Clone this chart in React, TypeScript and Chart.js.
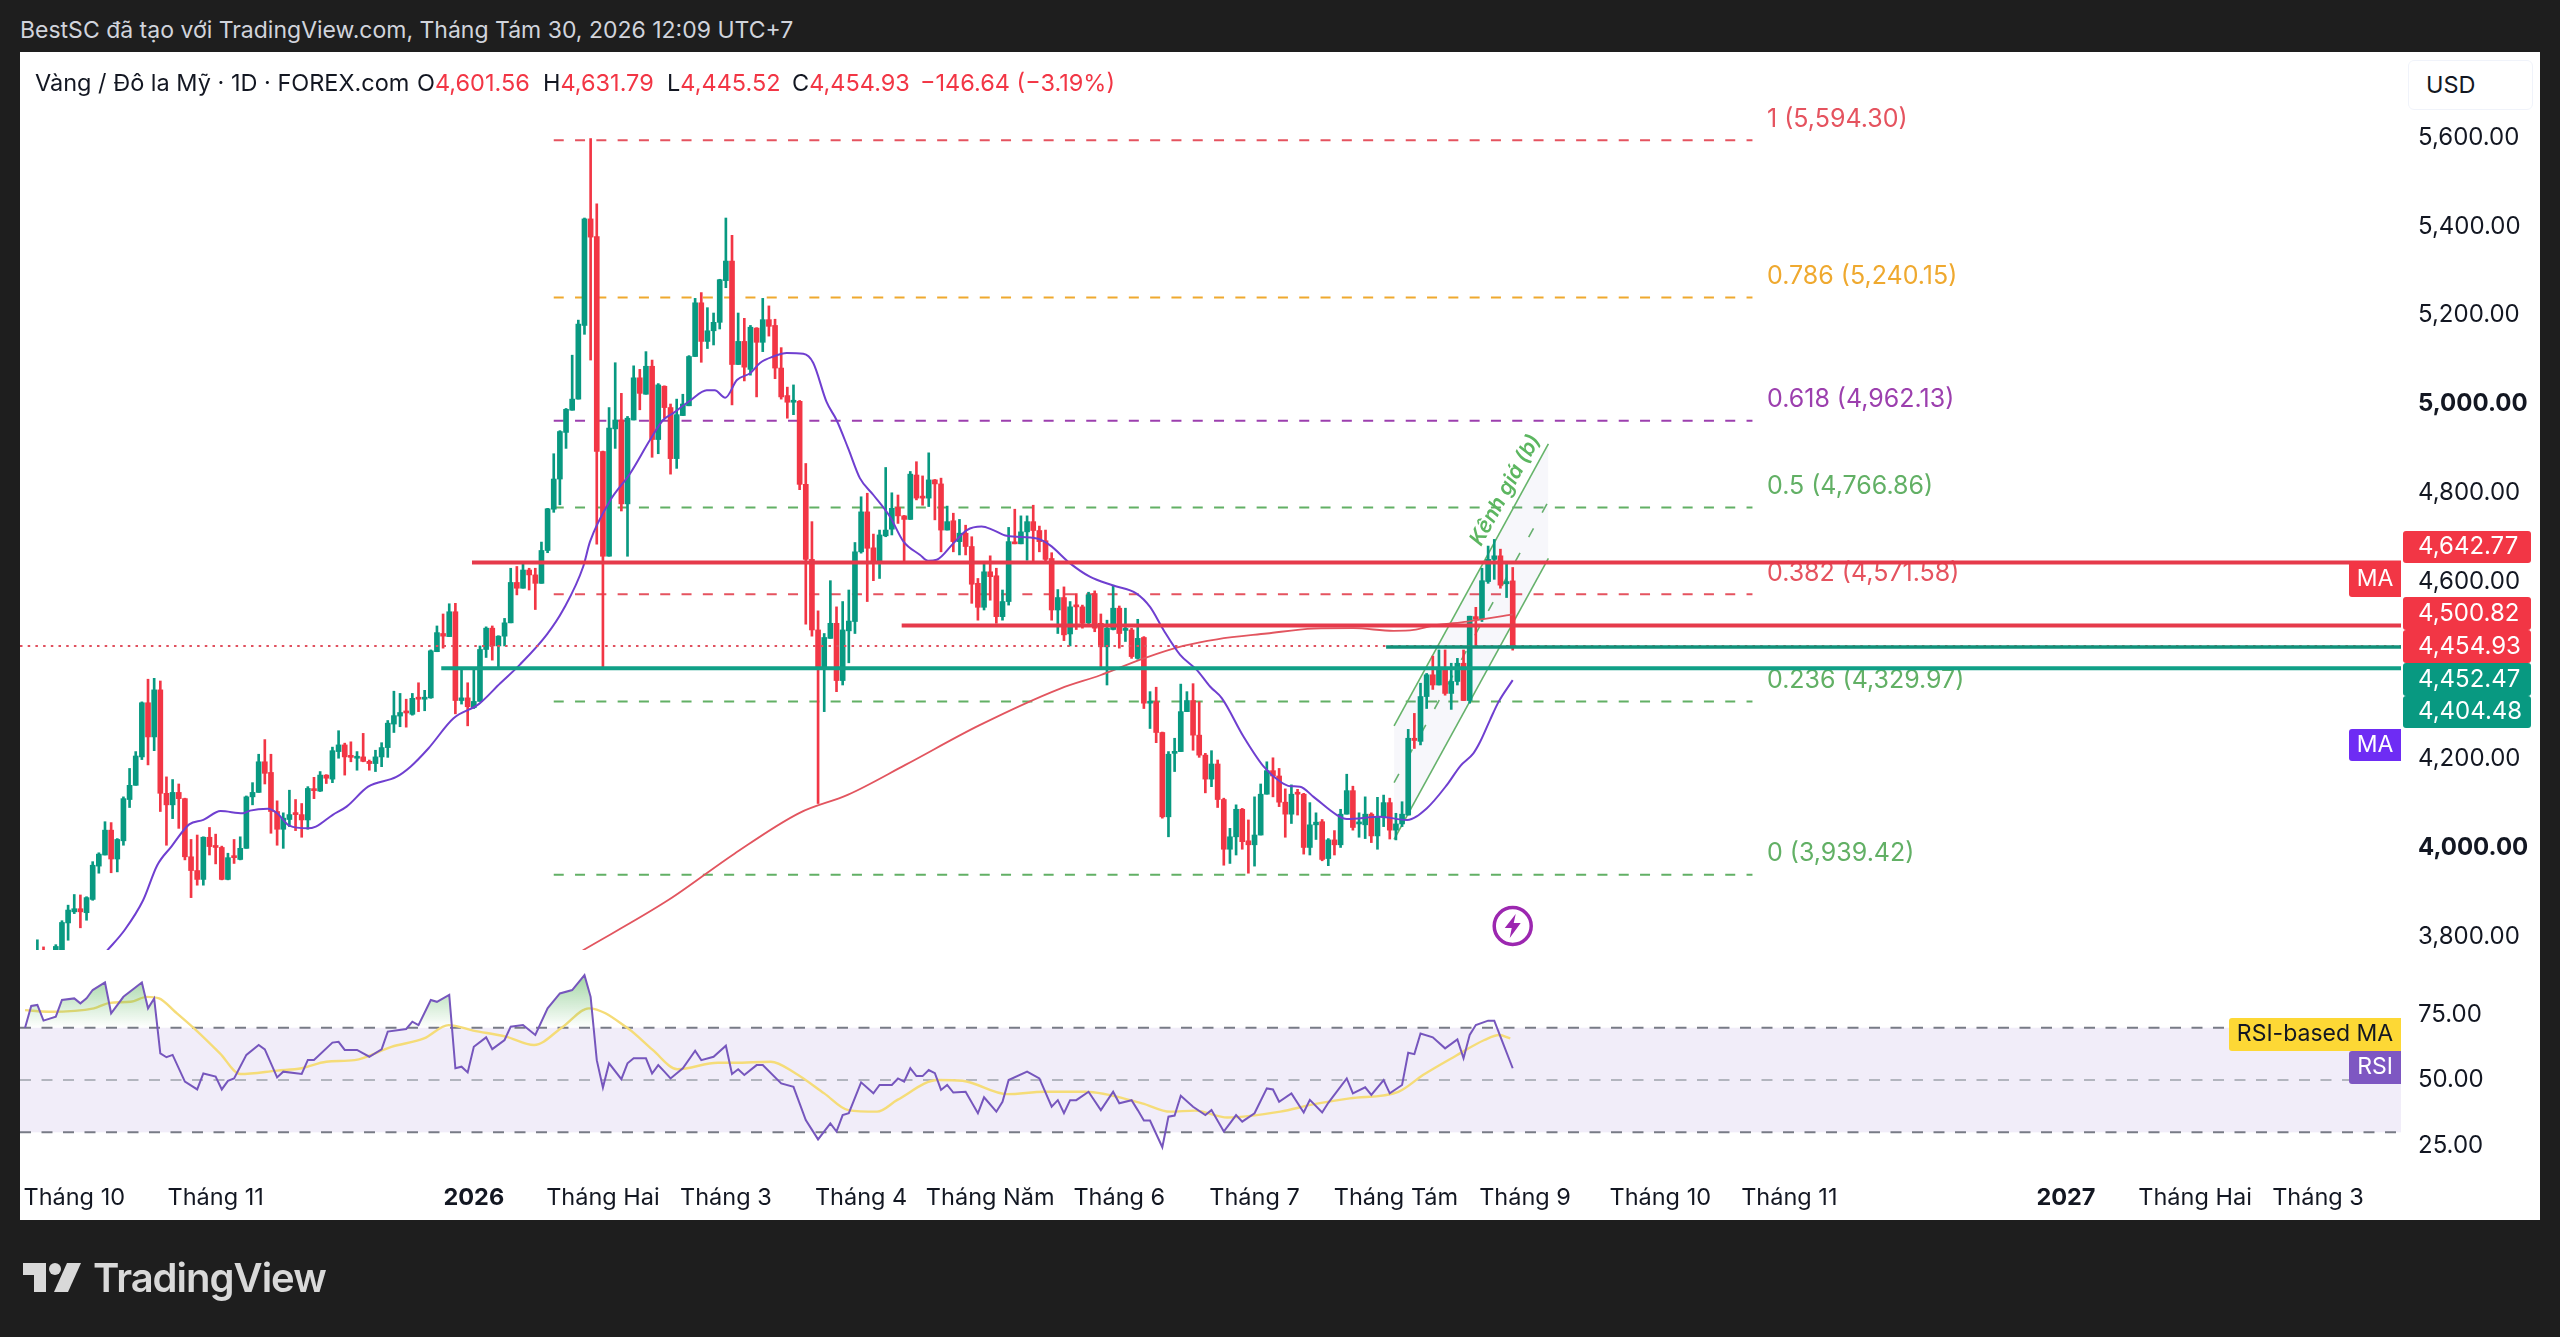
import React, { useEffect, useRef } from 'react';
import { Chart, registerables } from 'chart.js';

Chart.register(...registerables);

const opens = [3735,3742,3745,3765,3745,3750,3765,3831,3856,3863,3854,3884,3959,3984,4040,3975,4016,4109,4141,4205,4327,4250,4356,4123,4097,4125,4111,3980,3949,3929,4024,4004,4001,3929,3982,3974,3999,4115,4125,4194,4170,4082,4042,4064,4078,4075,4063,4133,4128,4164,4155,4217,4232,4208,4202,4205,4195,4190,4205,4226,4279,4297,4307,4301,4338,4335,4338,4442,4483,4476,4532,4332,4338,4316,4330,4447,4495,4455,4477,4507,4598,4585,4626,4615,4596,4670,4763,4831,4936,4986,5011,5177,5417,5377,4893,4657,4944,4964,4775,4964,5059,5022,5085,4920,5040,4992,4877,4974,4996,5107,5228,5141,5165,5184,5278,5322,5089,5141,5078,5171,5139,5190,5177,5081,5019,5004,5006,4819,4650,4491,4404,4472,4506,4377,4489,4510,4667,4757,4676,4641,4703,4718,4767,4748,4740,4840,4790,4788,4829,4820,4716,4737,4690,4709,4679,4596,4542,4622,4613,4521,4555,4688,4685,4712,4735,4715,4692,4652,4536,4564,4482,4545,4543,4507,4573,4506,4453,4492,4540,4490,4491,4427,4474,4326,4329,4260,4070,4213,4217,4307,4332,4254,4209,4155,4189,4109,3997,4025,4087,4016,4007,4029,4121,4174,4162,4103,4076,4124,4121,4001,4052,4059,3976,4018,4007,4076,4129,4054,4052,4076,4027,4070,4102,4040,4054,4074,4247,4240,4341,4390,4367,4407,4348,4375,4416,4332,4521,4516,4600,4650,4658,4595,4601.56];
const highs = [3748,3760,3793,3777,3768,3782,3836,3871,3895,3894,3890,3969,3989,4059,4057,4021,4115,4179,4217,4329,4380,4382,4376,4160,4154,4144,4112,4019,4029,4025,4046,4031,4004,3988,4019,4025,4117,4147,4211,4244,4211,4106,4079,4130,4109,4100,4138,4159,4172,4165,4227,4264,4236,4239,4217,4258,4198,4220,4237,4287,4353,4348,4335,4348,4372,4355,4446,4500,4527,4550,4551,4404,4372,4402,4455,4498,4500,4478,4517,4630,4634,4641,4630,4630,4689,4765,4888,4940,4990,5110,5189,5419,5598,5451,4894,4992,5093,5024,4972,5086,5078,5118,5099,5046,5041,5000,5011,5022,5109,5238,5251,5217,5205,5281,5419,5380,5205,5193,5177,5172,5238,5221,5191,5127,5038,5043,5008,4866,4735,4534,4483,4602,4543,4555,4581,4688,4791,4799,4707,4716,4857,4800,4795,4749,4848,4870,4838,4890,4830,4833,4770,4754,4740,4727,4701,4607,4642,4658,4630,4581,4722,4763,4748,4748,4772,4725,4716,4665,4582,4588,4555,4573,4547,4576,4579,4527,4513,4592,4545,4540,4495,4515,4476,4352,4362,4261,4217,4247,4369,4352,4370,4329,4213,4219,4198,4112,4044,4097,4089,4063,4115,4144,4194,4203,4179,4133,4142,4132,4123,4102,4079,4064,4021,4039,4087,4166,4139,4079,4115,4079,4114,4119,4112,4078,4104,4267,4303,4371,4393,4432,4446,4446,4416,4427,4446,4522,4542,4630,4680,4695,4673,4641,4631.79];
const lows = [3720,3730,3730,3730,3730,3735,3750,3792,3852,3820,3837,3882,3943,3984,3944,3946,4006,4091,4141,4199,4187,4219,4082,4006,4066,4044,3973,3888,3916,3916,3984,3964,3928,3928,3965,3973,3999,4097,4125,4144,4033,4006,3999,4048,4039,4024,4042,4111,4127,4145,4147,4202,4164,4194,4175,4194,4175,4172,4183,4204,4260,4273,4272,4299,4307,4309,4337,4442,4450,4476,4302,4324,4275,4314,4330,4429,4423,4407,4455,4507,4570,4585,4581,4537,4596,4665,4756,4773,4900,4986,5011,5157,5099,4684,4405,4657,4900,4759,4657,4964,4987,5022,4880,4888,4968,4842,4855,4974,4996,5107,5094,5125,5133,5169,5262,4998,5089,5052,5065,5016,5118,5153,5057,5011,4968,4976,4807,4504,4477,4100,4307,4472,4352,4367,4417,4483,4664,4555,4602,4607,4701,4705,4731,4645,4740,4784,4772,4769,4739,4667,4716,4667,4660,4660,4551,4513,4536,4558,4506,4513,4547,4685,4685,4648,4645,4667,4641,4513,4483,4467,4455,4492,4495,4504,4487,4404,4367,4491,4450,4465,4427,4425,4314,4269,4237,4067,4025,4172,4217,4307,4220,4204,4124,4138,4091,3961,3965,3984,3997,3943,3959,4029,4121,4115,4093,4024,4055,4074,3986,3984,4019,3971,3960,3984,4001,4076,4040,4024,4021,4012,3997,4048,4020,4018,4048,4074,4224,4232,4314,4357,4367,4344,4312,4367,4332,4326,4453,4510,4596,4605,4585,4564,4445.52];
const closes = [3742,3752,3760,3745,3760,3778,3832,3860,3863,3856,3888,3961,3986,4040,3975,4019,4111,4141,4207,4327,4250,4356,4123,4097,4125,4111,3980,3949,3929,4024,4003,4001,3929,3978,3978,3999,4115,4125,4194,4168,4082,4042,4067,4075,4075,4063,4134,4129,4164,4157,4219,4232,4205,4204,4205,4195,4190,4205,4226,4281,4298,4305,4304,4337,4335,4338,4444,4485,4477,4532,4332,4338,4318,4330,4447,4495,4455,4477,4507,4598,4585,4626,4615,4596,4670,4764,4831,4938,4988,5011,5180,5417,5376,4893,4657,4946,4964,4775,4968,5059,5024,5085,4920,5043,4992,4877,4976,5000,5107,5228,5141,5165,5184,5280,5322,5089,5141,5083,5173,5139,5190,5175,5081,5016,5004,5008,4819,4650,4491,4402,4474,4506,4377,4491,4511,4667,4757,4675,4641,4705,4716,4765,4748,4740,4842,4788,4788,4829,4820,4716,4735,4690,4709,4679,4594,4542,4622,4611,4521,4555,4690,4685,4712,4735,4715,4690,4650,4536,4564,4480,4543,4543,4506,4570,4495,4453,4495,4540,4483,4492,4431,4472,4326,4330,4260,4070,4211,4217,4307,4332,4254,4209,4155,4189,4109,3997,4025,4087,4014,4007,4029,4121,4174,4162,4103,4076,4121,4121,4001,4052,4058,3974,4018,4007,4076,4129,4046,4057,4076,4027,4070,4102,4040,4054,4076,4247,4242,4341,4390,4367,4407,4348,4375,4416,4332,4522,4515,4602,4650,4658,4592,4600,4454.93];

const maFast: [number, number][] = [[13.3,3768],[16.2,3815],[19.2,3882],[21.5,3961],[23.8,4003],[26.7,4053],[29,4063],[31.8,4083],[35.4,4078],[36.6,4084],[39.5,4088],[41,4078],[43,4050],[45.9,4044],[47.3,4048],[50,4074],[52.3,4093],[55.8,4138],[60.4,4160],[62.7,4183],[65.6,4224],[69.7,4292],[73.8,4324],[77.3,4371],[80.5,4413],[84.9,4481],[87.6,4538],[90.8,4634],[91.9,4690],[95.2,4783],[98.4,4843],[101.7,4920],[103.8,4964],[105.5,4980],[108.2,5008],[110.9,5031],[112.2,5031],[113.9,5014],[115.8,5054],[118,5070],[119.6,5093],[121.7,5107],[123.9,5115],[126.6,5113],[128.2,5093],[130.4,5004],[132,4964],[133.9,4900],[135.8,4833],[138,4795],[140.7,4746],[142.9,4690],[145.6,4660],[146.9,4647],[148.3,4649],[151,4686],[153.2,4716],[155.6,4724],[157.5,4716],[159.7,4703],[164.6,4697],[166.7,4682],[170,4641],[173.2,4611],[177,4591],[180.8,4573],[183,4543],[185.2,4491],[187.9,4435],[190.6,4401],[192.8,4363],[194.7,4337],[198.2,4251],[201.5,4183],[204.2,4149],[205.8,4139],[207.4,4138],[209.6,4115],[213.4,4074],[215,4065],[220.4,4070],[224.8,4063],[228,4089],[231.3,4142],[233.5,4185],[235.6,4213],[236.7,4239],[238.3,4288],[239.7,4329],[242,4378]];
const maSlow: [number, number][] = [[90.7,3769],[104.7,3883],[115.4,3987],[126,4079],[133.9,4120],[143.2,4187],[155.2,4276],[168.4,4359],[174.9,4389],[182,4427],[188.4,4455],[193.9,4470],[202,4483],[209.6,4494],[216.1,4495],[222.6,4489],[225.9,4491],[229.1,4501],[234.6,4510],[242,4526]];
const rsiValues: [number, number][] = [[0,70],[1,78.3],[2,78.7],[3,72.7],[5,74.2],[6,80.6],[8,81.2],[9,79.3],[10,81.2],[11,84.4],[13,87.3],[14,75.5],[16,81.8],[19,87.3],[20,77.4],[21,81.2],[22,60.2],[23,58.7],[24,59.6],[26,49.4],[28,46.4],[29,52.5],[31,51.3],[32,46.4],[33,49.7],[34,50.6],[36,59.6],[38,63.4],[39,61.7],[41,51],[42,53.2],[45,52.3],[46,57.7],[47,57.7],[50,64.3],[51,64.6],[52,61.5],[54,61.5],[56,58.9],[58,61.7],[59,68.5],[62,69.5],[63,72.3],[64,71],[66,80.6],[67,79.9],[69,82.5],[70,54.5],[71,55.1],[72,52.9],[73,62.7],[75,66.3],[76,61.8],[78,65.3],[79,70.4],[81,71],[83,67.2],[85,77.4],[87,83.1],[89,84.4],[91,90.1],[92,81.8],[93,57.6],[94,47.1],[95,56.4],[97,50.3],[98,56.4],[99,58.3],[101,58.3],[102,52.5],[103,55.7],[104,53.2],[105,50.6],[107,54.5],[109,61.2],[110,57.6],[112,58.9],[114,63.1],[115,52.3],[116,54.1],[117,51.9],[119,55.7],[120,55.7],[123,48.7],[125,47.4],[127,34.7],[129,27.3],[131,33.4],[132,30.3],[133,36.6],[134,37.3],[136,49.1],[138,44.9],[139,48.1],[141,48.1],[142,50.6],[143,49.4],[144,54.5],[145,51.5],[146,51.5],[147,53.8],[148,52.6],[149,46.2],[150,48.1],[151,45.2],[153,45.5],[155,37.3],[156,43.4],[158,37.9],[159,41.7],[160,50],[163,53.2],[165,50.6],[167,39.8],[168,42.3],[169,37.3],[170,42.3],[171,42.3],[173,45.5],[175,38.5],[177,45.5],[178,41.1],[180,42.3],[181,38.5],[182,34.5],[183,34.5],[185,24.3],[186,36],[187,36.4],[188,44],[190,39.8],[192,36.6],[193,38.5],[195,30.3],[196,33.4],[197,36.6],[198,34.1],[200,37.3],[202,46.8],[203,46.4],[204,41.7],[206,44.9],[208,37.6],[209,42.4],[211,37.6],[212,41.3],[215,50.6],[216,44.9],[218,47.2],[219,44.3],[221,50],[222,44.9],[224,48.1],[225,60.4],[226,59.9],[227,67.8],[229,66.3],[231,62.1],[233,65.5],[234,58.3],[235,67.2],[236,71],[238,72.7],[239,72.7],[240,66.6],[242,54.5]];
const rsiMa: [number, number][] = [[0,76.7],[3.9,76.1],[11.2,77.4],[13.8,79.5],[17.2,79.9],[19.8,81.8],[21.8,81.2],[24.4,76.1],[27.8,69.1],[31.7,60.2],[35,52.3],[41,53.6],[45,54.5],[49,57],[53.6,57.6],[59.6,62.7],[64.9,65.9],[68.9,71],[72.9,68.9],[78.2,66.6],[82.8,63.4],[87.5,70.4],[91.7,77.4],[98.1,69.7],[102.1,61.5],[106.1,54.1],[112.7,56.6],[115.4,56.6],[121.3,57],[125.3,52.6],[130,44.9],[133.9,38.5],[138.6,37.9],[141.9,42.4],[148.5,50],[152.5,49.7],[159.8,44.6],[165.8,45.5],[172.4,45.5],[181.7,41.1],[186.3,37.9],[190.3,38.3],[195.6,35.7],[204.2,37.9],[209.5,40.7],[215.5,43],[223.4,45.5],[227.4,51.9],[232.7,59.2],[237.4,65.3],[239.8,67.2],[241.6,65.9]];

const fibLevels = [
	{ ratio: '1', price: 5594.3, color: '#e5535f' },
	{ ratio: '0.786', price: 5240.15, color: '#efa92f' },
	{ ratio: '0.618', price: 4962.13, color: '#9c3fae' },
	{ ratio: '0.5', price: 4766.86, color: '#62b065' },
	{ ratio: '0.382', price: 4571.58, color: '#e5535f' },
	{ ratio: '0.236', price: 4329.97, color: '#62b065' },
	{ ratio: '0', price: 3939.42, color: '#62b065' },
];
const fibFrom = 86;
const fibTo = 281;

const channelFrom = 222.7;
const channelTo = 247.8;
const channelUpper = [4275, 4910];
const channelLower = [4019, 4652];
const channelMiddle = [4147, 4781];

const priceLines = [
	{ price: 4642.77, from: 72.7, color: '#e63a4b', width: 4 },
	{ price: 4500.82, from: 142.6, color: '#e63a4b', width: 4 },
	{ price: 4452.47, from: 221.4, color: '#11917a', width: 3.5 },
	{ price: 4404.48, from: 67.7, color: '#11a087', width: 4 },
];
const lastClose = 4454.93;

const priceTicks = [3800, 4000, 4200, 4600, 4800, 5000, 5200, 5400, 5600];
const boldPrices = [4000, 5000];
const rsiTicks = [25, 50, 75];
const timeTicks: [number, string][] = [[8, 'Tháng 10'], [31, 'Tháng 11'], [73, '2026'], [94, 'Tháng Hai'], [114, 'Tháng 3'], [136, 'Tháng 4'], [157, 'Tháng Năm'], [178, 'Tháng 6'], [200, 'Tháng 7'], [223, 'Tháng Tám'], [244, 'Tháng 9'], [266, 'Tháng 10'], [287, 'Tháng 11'], [332, '2027'], [353, 'Tháng Hai'], [373, 'Tháng 3']];

const priceTags = [
	{ text: '4,642.77', top: 531, bottom: 563, color: '#f23645' },
	{ text: '4,500.82', top: 597, bottom: 630, color: '#f23645' },
	{ text: '4,454.93', top: 630, bottom: 663, color: '#f23645' },
	{ text: '4,452.47', top: 663, bottom: 696, color: '#089981' },
	{ text: '4,404.48', top: 696, bottom: 728, color: '#089981' },
];
const paneTags = [
	{ text: 'MA', left: 2349, top: 561, bottom: 597, color: '#f23645', ink: '#ffffff' },
	{ text: 'MA', left: 2349, top: 729, bottom: 761, color: '#6e2cf4', ink: '#ffffff' },
	{ text: 'RSI-based MA', left: 2229, top: 1018, bottom: 1051, color: '#fdd835', ink: '#131722' },
	{ text: 'RSI', left: 2349, top: 1051, bottom: 1084, color: '#7e57c2', ink: '#ffffff' },
];

const FONT = 'Inter, "Noto Sans", sans-serif';
const UP = '#089981';
const DOWN = '#f23645';
const PANEL_LEFT = 20;

const points = (list: [number, number][]) => list.map(([x, y]) => ({ x, y }));
const money = (v: number) => v.toLocaleString('en-US', { minimumFractionDigits: 2, maximumFractionDigits: 2 });

const overlay = {
	id: 'overlay',
	beforeDatasetsDraw(chart: any) {
		const { ctx, chartArea, scales } = chart;
		const right = chartArea.right;
		ctx.save();
		ctx.fillStyle = '#f1edf9';
		const top = scales.y2.getPixelForValue(70);
		const bottom = scales.y2.getPixelForValue(30);
		ctx.fillRect(PANEL_LEFT, top, right - PANEL_LEFT, bottom - top);
		[[70, '#787b86'], [50, '#b2b5be'], [30, '#787b86']].forEach(([v, color]) => {
			const y = scales.y2.getPixelForValue(v as number);
			ctx.strokeStyle = color as string;
			ctx.lineWidth = 2;
			ctx.setLineDash([11, 10.5]);
			ctx.beginPath();
			ctx.moveTo(PANEL_LEFT, y);
			ctx.lineTo(right, y);
			ctx.stroke();
		});
		ctx.restore();
	},
	afterDatasetsDraw(chart: any) {
		const { ctx, chartArea, scales } = chart;
		const right = chartArea.right;
		ctx.save();

		ctx.font = `25px ${FONT}`;
		ctx.textBaseline = 'middle';
		ctx.textAlign = 'left';
		fibLevels.forEach(l => {
			ctx.fillStyle = l.color;
			ctx.fillText(`${l.ratio} (${money(l.price)})`, 1767, scales.y.getPixelForValue(l.price) - 21);
		});

		const closeY = scales.y.getPixelForValue(lastClose);
		ctx.strokeStyle = '#e0505e';
		ctx.lineWidth = 2;
		ctx.setLineDash([2.5, 5.2]);
		ctx.beginPath();
		ctx.moveTo(PANEL_LEFT, closeY);
		ctx.lineTo(right, closeY);
		ctx.stroke();
		ctx.setLineDash([]);

		priceLines.forEach(l => {
			const y = scales.y.getPixelForValue(l.price);
			ctx.strokeStyle = l.color;
			ctx.lineWidth = l.width;
			ctx.beginPath();
			ctx.moveTo(scales.x.getPixelForValue(l.from), y);
			ctx.lineTo(right, y);
			ctx.stroke();
		});

		// channel caption
		ctx.save();
		ctx.translate(scales.x.getPixelForValue(240.8), scales.y.getPixelForValue(4806));
		ctx.rotate(-61 * Math.PI / 180);
		ctx.font = `italic 600 21px ${FONT}`;
		ctx.fillStyle = '#5cb660';
		ctx.textAlign = 'center';
		ctx.fillText('Kênh giá (b)', 0, 0);
		ctx.restore();

		// lightning mark
		const bx = scales.x.getPixelForValue(242);
		const by = scales.y.getPixelForValue(3824);
		ctx.strokeStyle = '#9c27b0';
		ctx.lineWidth = 3.5;
		ctx.beginPath();
		ctx.arc(bx, by, 18.5, 0, Math.PI * 2);
		ctx.stroke();
		ctx.fillStyle = '#9c27b0';
		ctx.beginPath();
		ctx.moveTo(bx + 3, by - 12);
		ctx.lineTo(bx - 8, by + 2);
		ctx.lineTo(bx - 1, by + 2);
		ctx.lineTo(bx - 3, by + 12);
		ctx.lineTo(bx + 8, by - 3);
		ctx.lineTo(bx + 1, by - 3);
		ctx.closePath();
		ctx.fill();

		ctx.font = `24px ${FONT}`;
		priceTags.forEach(t => {
			ctx.fillStyle = t.color;
			ctx.beginPath();
			ctx.roundRect(2403, t.top, 128, t.bottom - t.top, 3);
			ctx.fill();
			ctx.fillStyle = '#ffffff';
			ctx.textAlign = 'left';
			ctx.fillText(t.text, 2418, (t.top + t.bottom) / 2);
		});
		ctx.font = `23px ${FONT}`;
		paneTags.forEach(t => {
			ctx.fillStyle = t.color;
			ctx.beginPath();
			ctx.roundRect(t.left, t.top, right - t.left, t.bottom - t.top, [3, 0, 0, 3]);
			ctx.fill();
			ctx.fillStyle = t.ink;
			ctx.textAlign = 'center';
			ctx.fillText(t.text, (t.left + right) / 2, (t.top + t.bottom) / 2);
		});
		ctx.restore();
	},
};

const App: React.FC = () => {
	const canvas = useRef<HTMLCanvasElement>(null!);

	useEffect(() => {
		const ctx = canvas.current.getContext('2d')!;
		const overbought = ctx.createLinearGradient(0, 972, 0, 1028);
		overbought.addColorStop(0, 'rgba(76,175,80,0.55)');
		overbought.addColorStop(1, 'rgba(76,175,80,0)');

		const color = (i: number) => (closes[i] >= opens[i] ? UP : DOWN);
		const line = { type: 'line' as const, pointRadius: 0, fill: false, parsing: { xAxisKey: 'x', yAxisKey: 'y' } };

		const chart = new Chart(canvas.current, {
			type: 'bar',
			data: {
				datasets: [
					...fibLevels.map(l => ({
						...line,
						data: [{ x: fibFrom, y: l.price }, { x: fibTo, y: l.price }],
						borderColor: l.color,
						borderWidth: 2,
						borderDash: [10, 11.3],
						order: 30,
					})),
					{
						...line,
						data: [{ x: channelFrom, y: channelUpper[0] }, { x: channelTo, y: channelUpper[1] }],
						borderColor: '#66b46a',
						borderWidth: 1.6,
						fill: '+1',
						backgroundColor: 'rgba(120,123,190,0.06)',
						order: 25,
					},
					{
						...line,
						data: [{ x: channelFrom, y: channelLower[0] }, { x: channelTo, y: channelLower[1] }],
						borderColor: '#66b46a',
						borderWidth: 1.6,
						order: 25,
					},
					{
						...line,
						data: [{ x: channelFrom, y: channelMiddle[0] }, { x: channelTo, y: channelMiddle[1] }],
						borderColor: '#66b46a',
						borderWidth: 1.6,
						borderDash: [10, 18],
						order: 25,
					},
					{
						data: opens.map((_, i) => ({ x: i, y: [lows[i], highs[i]] })),
						backgroundColor: opens.map((_, i) => color(i)),
						barThickness: 2,
						grouped: false,
						order: 20,
					},
					{
						data: opens.map((_, i) => ({ x: i, y: [opens[i], closes[i]] })),
						backgroundColor: opens.map((_, i) => color(i)),
						barThickness: 5,
						minBarLength: 2,
						grouped: false,
						order: 19,
					},
					{
						...line,
						data: points(maSlow),
						borderColor: '#e2555f',
						borderWidth: 1.8,
						cubicInterpolationMode: 'monotone',
						order: 6,
					},
					{
						...line,
						data: points(maFast),
						borderColor: '#6f3fd0',
						borderWidth: 2,
						cubicInterpolationMode: 'monotone',
						order: 5,
					},
					{
						...line,
						data: points(rsiMa),
						yAxisID: 'y2',
						borderColor: '#f5dc78',
						borderWidth: 2.4,
						cubicInterpolationMode: 'monotone',
						order: 4,
					},
					{
						...line,
						data: points(rsiValues),
						yAxisID: 'y2',
						borderColor: '#7656bd',
						borderWidth: 2,
						fill: { target: { value: 70 }, above: overbought, below: 'rgba(0,0,0,0)' },
						order: 3,
					},
				] as any,
			},
			options: {
				animation: false,
				responsive: false,
				devicePixelRatio: 1,
				layout: { autoPadding: false, padding: { left: 22, right: 20, top: 52, bottom: 117 } },
				plugins: { legend: { display: false }, tooltip: { enabled: false } },
				scales: {
					x: {
						type: 'linear',
						offset: false,
						min: -0.5,
						max: 386.5,
						grid: { display: false, drawTicks: false },
						border: { display: false },
						afterBuildTicks: (axis: any) => {
							axis.ticks = timeTicks.map(([value]) => ({ value }));
						},
						afterFit: (axis: any) => {
							axis.height = 48;
						},
						ticks: {
							autoSkip: false,
							maxRotation: 0,
							padding: 12,
							color: '#131722',
							font: (c: any) => ({
								family: FONT,
								size: 23.5,
								weight: String(timeTicks.find(t => t[0] === c.tick?.value)?.[1]).startsWith('20') ? 'bold' : 'normal',
							}),
							callback: (v: any) => timeTicks.find(t => t[0] === v)?.[1] ?? '',
						},
					},
					y: {
						type: 'linear',
						position: 'right',
						stack: 'right',
						stackWeight: 898,
						min: 3770,
						max: 5793,
						grid: { display: false, drawTicks: false },
						border: { display: false },
						afterBuildTicks: (axis: any) => {
							axis.ticks = priceTicks.map(value => ({ value }));
						},
						afterFit: (axis: any) => {
							axis.width = 139;
						},
						ticks: {
							padding: 17,
							color: '#131722',
							font: (c: any) => ({ family: FONT, size: 24, weight: boldPrices.includes(c.tick?.value) ? 'bold' : 'normal' }),
							callback: (v: any) => money(v),
						},
					},
					y2: {
						type: 'linear',
						position: 'right',
						stack: 'right',
						stackWeight: 222,
						min: 14.84,
						max: 99.7,
						grid: { display: false, drawTicks: false },
						border: { display: false },
						afterBuildTicks: (axis: any) => {
							axis.ticks = rsiTicks.map(value => ({ value }));
						},
						afterFit: (axis: any) => {
							axis.width = 139;
						},
						ticks: {
							padding: 17,
							color: '#131722',
							font: { family: FONT, size: 24 },
							callback: (v: any) => money(v),
						},
					},
				},
			} as any,
			plugins: [overlay],
		});

		return () => {
			chart.destroy();
		};
	}, []);

	const text: React.CSSProperties = { position: 'absolute', whiteSpace: 'nowrap', fontFamily: FONT, fontSize: 23.5, lineHeight: '30px' };
	const quote = [
		{ left: 417, key: 'O', value: '4,601.56' },
		{ left: 543, key: 'H', value: '4,631.79' },
		{ left: 667, key: 'L', value: '4,445.52' },
		{ left: 792, key: 'C', value: '4,454.93' },
	];

	return <div style={{ position: 'absolute', left: 0, top: 0, width: 2560, height: 1337, overflow: 'hidden', background: '#1e1e1e' }}>
		<div style={{ ...text, left: 20, top: 15, fontSize: 23, color: '#d1d4dc' }}>BestSC đã tạo với TradingView.com, Tháng Tám 30, 2026 12:09 UTC+7</div>
		<div style={{ position: 'absolute', left: 20, top: 52, width: 2520, height: 1168, background: '#ffffff' }}></div>
		<canvas ref={canvas} width={2560} height={1337} style={{ position: 'absolute', left: 0, top: 0, width: 2560, height: 1337 }}></canvas>
		<div style={{ ...text, left: 35, top: 68, color: '#131722' }}>Vàng / Đô la Mỹ · 1D · FOREX.com</div>
		{quote.map(q => (
			<div key={q.key} style={{ ...text, left: q.left, top: 68, color: '#131722' }}>{q.key}<span style={{ color: DOWN }}>{q.value}</span></div>
		))}
		<div style={{ ...text, left: 920, top: 68, color: DOWN }}>−146.64 (−3.19%)</div>
		<div style={{ position: 'absolute', left: 2408, top: 60, width: 125, height: 50, boxSizing: 'border-box', border: '1px solid #f0f3fa', borderRadius: 6, background: '#ffffff' }}></div>
		<div style={{ ...text, left: 2426, top: 70, color: '#131722' }}>USD</div>
		<svg style={{ position: 'absolute', left: 23, top: 1263 }} width="58" height="30" viewBox="0 0 58 30">
			<path d="M0 0H23V29H11V12H0Z" fill="#d9d9d9" />
			<circle cx="32" cy="6" r="6" fill="#d9d9d9" />
			<path d="M44 0H58L45 29H31Z" fill="#d9d9d9" />
		</svg>
		<div style={{ ...text, left: 93, top: 1256, fontSize: 40, lineHeight: '44px', fontWeight: 600, letterSpacing: -1, color: '#d9d9d9' }}>TradingView</div>
	</div>;
};

export default App;
